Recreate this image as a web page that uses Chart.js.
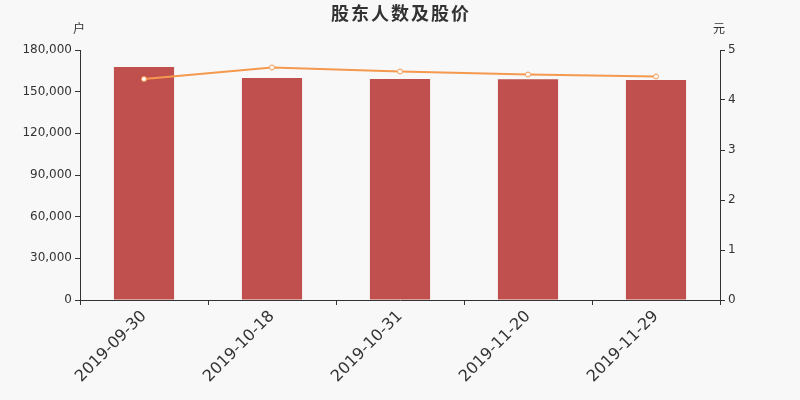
<!DOCTYPE html>
<html lang="zh">
<head>
    <meta charset="UTF-8">
    <title>股东人数及股价</title>
    <script src="https://cdn.jsdelivr.net/npm/chart.js"></script>
    <style>
        body { margin: 0; background-color: #f8f8f8; }
        #wrap { width: 800px; height: 400px; }
    </style>
</head>
<body>
    <div id="wrap"><canvas id="holderChart" width="800" height="400"></canvas></div>
    <script>
        const dates = ['2019-09-30', '2019-10-18', '2019-10-31', '2019-11-20', '2019-11-29'];
        const holders = [167700, 159800, 159100, 158900, 158400];
        const prices = [4.42, 4.65, 4.57, 4.51, 4.47];

        const fontFamily = '"DejaVu Sans", "Noto Sans CJK SC", sans-serif';
        const textColor = '#333';

        // title and unit labels
        const extras = {
            id: 'extras',
            afterDraw(chart) {
                const ctx = chart.ctx;
                ctx.save();
                ctx.fillStyle = textColor;
                ctx.textAlign = 'center';
                ctx.textBaseline = 'middle';
                ctx.font = 'bold 18px "Noto Sans CJK SC", sans-serif';
                ctx.letterSpacing = '2px';
                ctx.fillText('股东人数及股价', 401, 13);
                ctx.letterSpacing = '0px';
                ctx.font = '12px "Noto Sans CJK SC", sans-serif';
                ctx.fillText('户', 79, 28);
                ctx.fillText('元', 719, 28);
                ctx.restore();
            }
        };

        new Chart(document.getElementById('holderChart'), {
            data: {
                labels: dates,
                datasets: [
                    {
                        type: 'line',
                        label: '股价',
                        data: prices,
                        yAxisID: 'y1',
                        borderColor: '#f5994e',
                        borderWidth: 2,
                        pointRadius: 2.5,
                        pointBackgroundColor: '#ffffff',
                        pointBorderColor: '#f5994e',
                        pointBorderWidth: 1,
                        tension: 0,
                        order: 0
                    },
                    {
                        type: 'bar',
                        label: '股东人数',
                        data: holders,
                        yAxisID: 'y',
                        backgroundColor: '#c0504d',
                        barPercentage: 0.94,
                        categoryPercentage: 0.5,
                        order: 1
                    }
                ]
            },
            options: {
                responsive: false,
                animation: false,
                layout: { padding: { top: 50, left: 0, right: 0, bottom: 0 } },
                plugins: { legend: { display: false }, tooltip: { enabled: false } },
                scales: {
                    x: {
                        offset: true,
                        afterFit(s) { s.height = 100; },
                        grid: { offset: true, drawOnChartArea: false, drawTicks: true, tickLength: 5, color: textColor },
                        border: { color: textColor },
                        ticks: {
                            color: textColor,
                            font: { family: fontFamily, size: 16 },
                            minRotation: 45,
                            maxRotation: 45,
                            padding: 2
                        }
                    },
                    y: {
                        position: 'left',
                        min: 0,
                        max: 180000,
                        afterFit(s) { s.width = 80; },
                        grid: { drawOnChartArea: false, drawTicks: true, tickLength: 5, color: textColor },
                        border: { color: textColor },
                        ticks: {
                            stepSize: 30000,
                            color: textColor,
                            font: { family: fontFamily, size: 12 },
                            padding: 3,
                            callback: v => v.toLocaleString('en-US')
                        }
                    },
                    y1: {
                        position: 'right',
                        min: 0,
                        max: 5,
                        afterFit(s) { s.width = 80; },
                        grid: { drawOnChartArea: false, drawTicks: true, tickLength: 5, color: textColor },
                        border: { color: textColor },
                        ticks: {
                            stepSize: 1,
                            color: textColor,
                            font: { family: fontFamily, size: 12 },
                            padding: 3
                        }
                    }
                }
            },
            plugins: [extras]
        });
    </script>
</body>
</html>
